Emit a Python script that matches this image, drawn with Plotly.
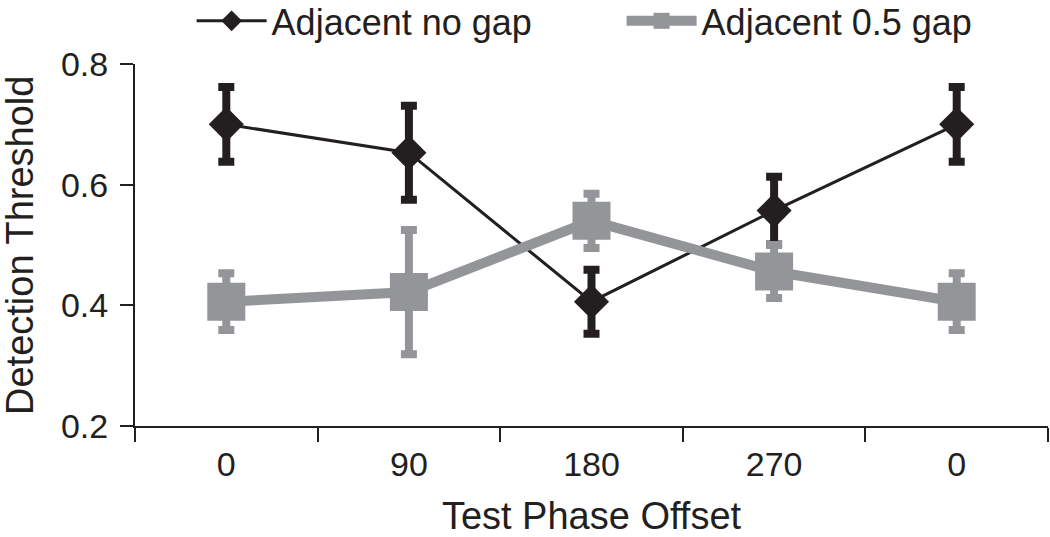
import plotly.graph_objects as go

categories = ["0", "90", "180", "270", "0"]
no_gap = [0.700, 0.653, 0.406, 0.557, 0.700]
no_gap_err = [0.062, 0.078, 0.053, 0.056, 0.062]
gap05 = [0.406, 0.422, 0.540, 0.456, 0.406]
gap05_err = [0.047, 0.103, 0.045, 0.044, 0.047]
y_ticks = [0.2, 0.4, 0.6, 0.8]

xpos = list(range(len(categories)))
BLACK = "#231f20"
GRAY = "#939598"
FONT = "Liberation Sans, Arial, sans-serif"

fig = go.Figure()
fig.add_trace(go.Scatter(
    x=xpos, y=no_gap, name="Adjacent no gap", mode="lines+markers",
    line=dict(color=BLACK, width=3),
    marker=dict(symbol="diamond", size=27, color=BLACK),
    error_y=dict(type="data", array=no_gap_err, color=BLACK, thickness=8, width=8),
))
fig.add_trace(go.Scatter(
    x=xpos, y=gap05, name="Adjacent 0.5 gap", mode="lines+markers",
    line=dict(color=GRAY, width=10),
    marker=dict(symbol="square", size=38, color=GRAY),
    error_y=dict(type="data", array=gap05_err, color=GRAY, thickness=8, width=8),
))

fig.update_layout(
    width=1050, height=537,
    margin=dict(l=135, r=2, t=64, b=111, autoexpand=False),
    plot_bgcolor="white", paper_bgcolor="white",
    font=dict(family=FONT, color=BLACK, size=34),
    showlegend=True,
    legend=dict(orientation="h", x=0.062, xanchor="left", y=1.119, yanchor="middle",
                font=dict(size=36), itemwidth=70, entrywidth=345,
                bgcolor="rgba(0,0,0,0)", tracegroupgap=0),
    xaxis=dict(
        range=[-0.5, len(categories) - 0.5], tickmode="array", tickvals=xpos,
        ticktext=categories, ticks="", showline=True, linecolor=BLACK, linewidth=2,
        showgrid=False, zeroline=False, tickfont=dict(size=34), automargin=False,
        ticklabelstandoff=7,
        minor=dict(tick0=-0.5, dtick=1, ticks="outside", ticklen=14, tickwidth=2,
                   tickcolor=BLACK, showgrid=False),
        title=dict(text="Test Phase Offset", font=dict(size=38), standoff=58),
    ),
    yaxis=dict(
        range=[0.2, 0.8], tickmode="array", tickvals=y_ticks,
        ticktext=[f"{v:.1f}" for v in y_ticks],
        ticks="outside", ticklen=13, tickwidth=2, tickcolor=BLACK,
        showline=True, linecolor=BLACK, linewidth=2, showgrid=False, zeroline=False,
        tickfont=dict(size=34), ticklabelstandoff=5, automargin=False,
    ),
    annotations=[dict(
        text="Detection Threshold", textangle=-90, showarrow=False,
        xref="paper", yref="paper", x=-0.126, y=0.5,
        xanchor="center", yanchor="middle", font=dict(size=38, color=BLACK),
    )],
)

fig.write_html("out.html", config={"displayModeBar": False},
               post_script="document.body.style.margin='0px';")
